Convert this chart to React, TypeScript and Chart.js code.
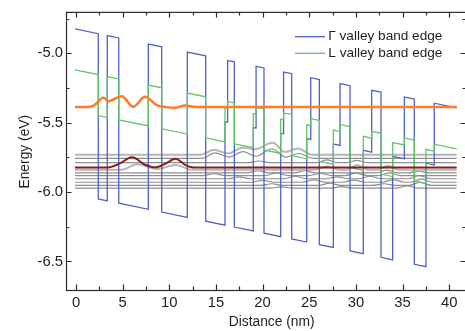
import { useEffect, useRef } from 'react';
import { Chart, registerables } from 'chart.js';

Chart.register(...registerables);

const FONT = '"Liberation Sans", Arial, Helvetica, sans-serif';

// Axis ticks
const xTicks = [0, 5, 10, 15, 20, 25, 30, 35, 40];
const xMinorTicks = [2.5, 7.5, 12.5, 17.5, 22.5, 27.5, 32.5, 37.5];
const yTicks = [-5.0, -5.5, -6.0, -6.5];
const yMinorTicks = [-4.75, -5.25, -5.75, -6.25];

// Γ valley conduction band edge: corner points of the biased heterostructure (nm, eV)
const gammaX = [
  -0.11, 2.39, 2.39, 3.35, 3.35, 4.58, 4.58, 7.75, 7.75, 9.19, 9.19, 11.93, 11.93, 13.9, 13.9,
  15.97, 15.97, 16.25, 16.25, 16.97, 16.97, 19.0, 19.0, 19.3, 19.3, 20.15, 20.15, 21.94, 21.94,
  22.25, 22.25, 23.12, 23.12, 24.73, 24.73, 25.16, 25.16, 26.08, 26.08, 27.58, 27.58, 28.3, 28.3,
  29.37, 29.37, 30.79, 30.79, 31.69, 31.69, 32.69, 32.69, 33.94, 33.94, 35.19, 35.19, 36.26,
  36.26, 37.51, 37.51, 38.4, 38.4, 40.8,
];
const gammaE = [
  -4.825, -4.859, -6.049, -6.063, -4.873, -4.89, -6.08, -6.124, -4.934, -4.954, -6.144, -6.182,
  -4.992, -5.019, -6.209, -6.238, -5.493, -5.497, -5.052, -5.062, -6.252, -6.28, -5.535, -5.539,
  -5.094, -5.106, -6.296, -6.321, -5.576, -5.58, -5.135, -5.147, -6.337, -6.36, -5.615, -5.621,
  -5.176, -5.189, -6.379, -6.399, -5.654, -5.664, -5.219, -5.234, -6.424, -6.444, -5.699, -5.712,
  -5.267, -5.28, -6.47, -6.488, -5.743, -5.76, -5.315, -5.33, -6.52, -6.537, -5.792, -5.805,
  -5.36, -5.393,
];

// L valley band edge on the same layer interfaces
const lValleyX = gammaX;
const lValleyE = [
  -5.12, -5.154, -5.449, -5.463, -5.168, -5.185, -5.48, -5.524, -5.229, -5.249, -5.544, -5.582,
  -5.287, -5.314, -5.609, -5.638, -5.393, -5.397, -5.347, -5.357, -5.652, -5.68, -5.435, -5.439,
  -5.389, -5.401, -5.696, -5.721, -5.476, -5.48, -5.43, -5.442, -5.737, -5.76, -5.515, -5.521,
  -5.471, -5.484, -5.779, -5.799, -5.554, -5.564, -5.514, -5.529, -5.824, -5.844, -5.599, -5.612,
  -5.562, -5.575, -5.87, -5.888, -5.643, -5.66, -5.61, -5.625, -5.92, -5.937, -5.692, -5.705,
  -5.655, -5.688,
];

// Upper laser state (orange) and lower laser state (dark red), offset by their energies
const upperStateX = [-0.11, 1.0, 1.9, 2.93, 3.47, 4.9, 6.14, 7.4, 8.65, 9.72, 10.6, 11.7, 12.8, 40.8];
const upperStateE = [
  -5.388, -5.388, -5.378, -5.321, -5.345, -5.309, -5.386, -5.314, -5.374, -5.388, -5.393, -5.376,
  -5.388, -5.388,
];
const lowerStateX = [-0.11, 3.4, 4.6, 6.0, 7.4, 8.5, 9.6, 10.65, 11.8, 12.6, 40.8];
const lowerStateE = [-5.823, -5.823, -5.797, -5.75, -5.803, -5.822, -5.795, -5.76, -5.808, -5.823, -5.823];

// Injector / miniband states (gray)
const level1: [number, number][] = [
  [-0.11, -5.731], [13.4, -5.731], [14.8, -5.695], [16.3, -5.722], [17.9, -5.678], [19.1, -5.692],
  [21.1, -5.645], [22.4, -5.712], [23.8, -5.686], [25.3, -5.731], [40.8, -5.731],
];
const level2: [number, number][] = [
  [-0.11, -5.757], [13.5, -5.757], [14.9, -5.718], [16.4, -5.748], [17.9, -5.708], [19.3, -5.742],
  [21.0, -5.688], [22.5, -5.748], [23.9, -5.722], [25.4, -5.757], [40.8, -5.757],
];
const level3: [number, number][] = [
  [-0.11, -5.788], [18.5, -5.788], [19.6, -5.776], [20.8, -5.788], [25.8, -5.788], [26.9, -5.768],
  [28.0, -5.788], [29.0, -5.788], [30.1, -5.772], [31.2, -5.788], [40.8, -5.788],
];
const level4: [number, number][] = [
  [-0.11, -5.84], [4.8, -5.84], [6.6, -5.8], [8.6, -5.834], [10.7, -5.805], [12.4, -5.84],
  [25.6, -5.84], [26.9, -5.815], [28.2, -5.84], [29.0, -5.84], [30.1, -5.805], [31.3, -5.84],
  [32.3, -5.84], [33.4, -5.81], [34.6, -5.84], [40.8, -5.84],
];
const level5: [number, number][] = [
  [-0.11, -5.862], [18.3, -5.862], [19.5, -5.846], [20.7, -5.862], [23.4, -5.862], [24.5, -5.846],
  [25.7, -5.862], [32.2, -5.862], [33.3, -5.842], [34.5, -5.862], [35.6, -5.862], [36.7, -5.85],
  [37.9, -5.862], [40.8, -5.862],
];
const level6: [number, number][] = [
  [-0.11, -5.881], [13.6, -5.881], [14.8, -5.868], [16.0, -5.881], [20.3, -5.881], [21.5, -5.862],
  [22.7, -5.881], [25.0, -5.881], [26.2, -5.866], [27.4, -5.881], [28.8, -5.881], [30.0, -5.864],
  [31.2, -5.881], [32.4, -5.881], [33.6, -5.862], [34.8, -5.881], [40.8, -5.881],
];
const level7: [number, number][] = [
  [-0.11, -5.904], [16.3, -5.904], [17.5, -5.891], [18.7, -5.904], [22.3, -5.904], [23.5, -5.886],
  [24.7, -5.904], [26.8, -5.904], [28.0, -5.89], [29.2, -5.904], [30.3, -5.904], [31.5, -5.886],
  [32.7, -5.904], [35.6, -5.904], [36.8, -5.882], [38.0, -5.904], [40.8, -5.904],
];
const level8: [number, number][] = [
  [-0.11, -5.929], [18.8, -5.929], [20.0, -5.915], [21.2, -5.929], [24.3, -5.929], [25.5, -5.912],
  [26.7, -5.929], [28.6, -5.929], [29.8, -5.914], [31.0, -5.929], [32.8, -5.929], [34.0, -5.91],
  [35.2, -5.929], [35.9, -5.929], [37.0, -5.905], [38.2, -5.929], [40.8, -5.929],
];
const level9: [number, number][] = [
  [-0.11, -5.952], [19.8, -5.952], [21.0, -5.94], [22.2, -5.952], [26.0, -5.952], [27.2, -5.936],
  [28.4, -5.952], [31.8, -5.952], [33.0, -5.94], [34.2, -5.952], [35.7, -5.952], [36.9, -5.93],
  [38.1, -5.952], [40.8, -5.952],
];
const level10: [number, number][] = [
  [-0.11, -5.972], [20.8, -5.972], [22.0, -5.962], [23.2, -5.972], [27.3, -5.972], [28.5, -5.96],
  [29.7, -5.972], [34.3, -5.972], [35.5, -5.955], [36.7, -5.972], [40.8, -5.972],
];

const zip = (xs: number[], ys: number[]) => xs.map((x, i) => ({ x, y: ys[i] }));
const fromPairs = (p: [number, number][]) => p.map(([x, y]) => ({ x, y }));

const BLUE = '#4f62c8';
const GREEN = '#62c662';
const ORANGE = '#ff7a2b';
const DARK_RED = '#8a1c1c';
const GRAY_LIGHT = '#b6b6b6';
const GRAY = '#8e8e8e';

const grayLevels = [
  { data: level1, color: GRAY_LIGHT, width: 2 },
  { data: level2, color: GRAY, width: 1.2 },
  { data: level3, color: GRAY, width: 1.2 },
  { data: level4, color: GRAY_LIGHT, width: 2 },
  { data: level5, color: GRAY, width: 1.2 },
  { data: level6, color: GRAY, width: 1.2 },
  { data: level7, color: GRAY, width: 1.2 },
  { data: level8, color: GRAY, width: 1.2 },
  { data: level9, color: GRAY, width: 1.2 },
  { data: level10, color: GRAY, width: 1.2 },
];

const framePlugin = {
  id: 'frameAndText',
  afterDatasetsDraw(chart: any) {
    const { ctx, chartArea: a, scales } = chart;
    const sx = scales.x;
    const sy = scales.y;
    ctx.save();
    ctx.strokeStyle = '#2a2a2a';
    ctx.lineWidth = 1.2;
    ctx.strokeRect(a.left + 0.5, a.top + 0.5, a.right - a.left, a.bottom - a.top);
    const major = 5.5;
    const minor = 3.5;
    ctx.beginPath();
    const xt = (v: number, len: number) => {
      const px = Math.round(sx.getPixelForValue(v)) + 0.5;
      ctx.moveTo(px, a.bottom);
      ctx.lineTo(px, a.bottom - len);
      ctx.moveTo(px, a.top);
      ctx.lineTo(px, a.top + len);
    };
    const yt = (v: number, len: number) => {
      const py = Math.round(sy.getPixelForValue(v)) + 0.5;
      ctx.moveTo(a.left, py);
      ctx.lineTo(a.left + len, py);
      ctx.moveTo(a.right, py);
      ctx.lineTo(a.right - len, py);
    };
    xTicks.forEach((v) => xt(v, major));
    xMinorTicks.forEach((v) => xt(v, minor));
    yTicks.forEach((v) => yt(v, major));
    yMinorTicks.forEach((v) => yt(v, minor));
    ctx.stroke();

    // axis titles
    ctx.fillStyle = '#1e1e1e';
    ctx.font = `13.8px ${FONT}`;
    ctx.textAlign = 'center';
    ctx.textBaseline = 'middle';
    ctx.fillText('Distance (nm)', 271.7, 321.7);
    ctx.save();
    ctx.translate(25, 151.7);
    ctx.rotate(-Math.PI / 2);
    ctx.fillText('Energy (eV)', 0, 0);
    ctx.restore();

    // legend
    ctx.font = `13.6px ${FONT}`;
    const entries = [0, 1].map((i) => chart.data.datasets[i]);
    ctx.textAlign = 'left';
    entries.forEach((ds: any, i: number) => {
      const y = 36.7 + i * 16.6;
      ctx.strokeStyle = ds.borderColor;
      ctx.lineWidth = 1.3;
      ctx.beginPath();
      ctx.moveTo(295, y);
      ctx.lineTo(325, y);
      ctx.stroke();
      ctx.fillStyle = '#1e1e1e';
      ctx.fillText(ds.label, 328.3, y);
    });
    ctx.restore();
  },
};

export default function App() {
  const ref = useRef<HTMLCanvasElement>(null);

  useEffect(() => {
    const canvas = ref.current;
    if (!canvas) return;
    const datasets: any[] = [
      {
        label: 'Γ valley band edge',
        data: zip(gammaX, gammaE),
        borderColor: BLUE,
        borderWidth: 1.3,
        order: 3,
      },
      {
        label: 'L valley band edge',
        data: zip(lValleyX, lValleyE),
        borderColor: GREEN,
        borderWidth: 1.3,
        order: 2,
      },
      {
        label: 'upper state',
        data: zip(upperStateX, upperStateE),
        borderColor: ORANGE,
        borderWidth: 2.5,
        cubicInterpolationMode: 'monotone',
        order: 0,
      },
      {
        label: 'lower state',
        data: zip(lowerStateX, lowerStateE),
        borderColor: DARK_RED,
        borderWidth: 2,
        cubicInterpolationMode: 'monotone',
        order: 1,
      },
      ...grayLevels.map((g, i) => ({
        label: `level ${i + 1}`,
        data: fromPairs(g.data),
        borderColor: g.color,
        borderWidth: g.width,
        cubicInterpolationMode: 'monotone',
        order: 5 + i,
      })),
    ].map((d) => ({ ...d, showLine: true, pointRadius: 0, fill: false, tension: 0 }));

    const tickFont = { family: FONT, size: 14.8 };

    const chart = new Chart(canvas, {
      type: 'scatter',
      data: { datasets },
      plugins: [framePlugin],
      options: {
        responsive: false,
        animation: false,
        devicePixelRatio: 1,
        layout: { padding: { left: 0, right: 4, top: 10, bottom: 0 } },
        plugins: { legend: { display: false }, tooltip: { enabled: false } },
        events: [],
        scales: {
          x: {
            type: 'linear',
            min: -1.072,
            max: 41.8,
            grid: { display: false, drawTicks: false },
            border: { display: false },
            afterBuildTicks: (s: any) => {
              s.ticks = xTicks.map((v) => ({ value: v }));
            },
            afterFit: (s: any) => {
              s.height = 41;
            },
            ticks: {
              autoSkip: false,
              maxRotation: 0,
              padding: 4,
              color: '#1e1e1e',
              font: tickFont,
              callback: (v: any) => String(v),
            },
          },
          y: {
            type: 'linear',
            min: -6.7053,
            max: -4.702,
            grid: { display: false, drawTicks: false },
            border: { display: false },
            afterBuildTicks: (s: any) => {
              s.ticks = yTicks.map((v) => ({ value: v }));
            },
            afterFit: (s: any) => {
              s.width = 66;
            },
            ticks: {
              autoSkip: false,
              padding: 3,
              color: '#1e1e1e',
              font: tickFont,
              callback: (v: any) => Number(v).toFixed(1),
            },
          },
        },
      },
    });
    return () => chart.destroy();
  }, []);

  return (
    <div
      style={{
        position: 'absolute',
        left: 0,
        top: 0,
        width: 465,
        height: 331,
        overflow: 'hidden',
        background: '#ffffff',
      }}
    >
      <canvas ref={ref} width={470} height={331} style={{ display: 'block', width: 470, height: 331 }} />
    </div>
  );
}
